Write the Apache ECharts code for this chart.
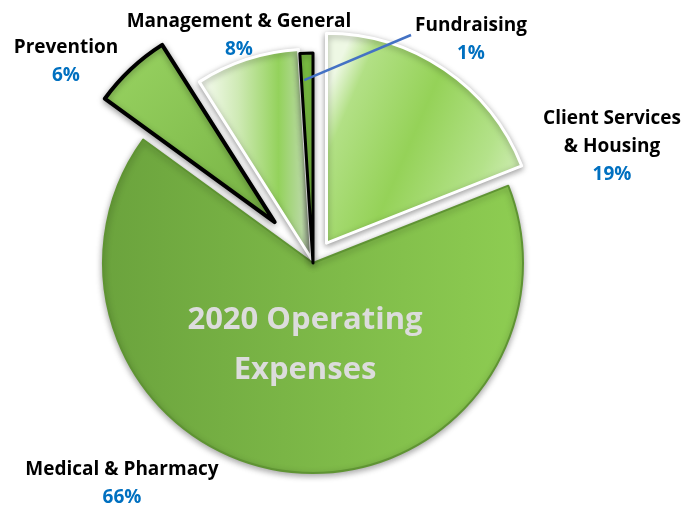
<!DOCTYPE html>
<html>
<head>
<meta charset="utf-8">
<title>2020 Operating Expenses</title>
<script src="https://cdn.jsdelivr.net/npm/echarts@6/dist/echarts.min.js"></script>
<style>
  html, body { margin: 0; padding: 0; background: #fff; }
  #main { width: 681px; height: 506px; }
</style>
</head>
<body>
<div id="main"></div>
<script>
// data
var chartTitle = '2020 Operating\nExpenses';
var categories = ['Client Services\n& Housing', 'Medical & Pharmacy', 'Prevention', 'Management & General', 'Fundraising'];
var values = [19, 66, 6, 8, 1];

// layout / style
var explode = [24, 0, 56, 4, 0];
var labelPos = [[612, 147], [122, 484], [66, 62], [239, 36], [471, 40]];
var cx = 313, cy = 263, R = 210;
var font = '"Open Sans", "Liberation Sans", sans-serif';

function lin(x0, y0, x1, y1, stops) {
  return new echarts.graphic.LinearGradient(x0, y0, x1, y1, stops.map(function (s) {
    return { offset: s[0], color: s[1] };
  }));
}

var fills = [
  lin(0, 0.3, 1, 0.7, [[0, '#eef8e4'], [0.12, '#b2e085'], [0.45, '#95d258'], [0.8, '#b4e28a'], [1, '#d3eeba']]),
  lin(0, 0, 1, 0, [[0, '#6ba33d'], [1, '#8ecd52']]),
  lin(0, 0, 1, 1, [[0, '#9ad463'], [1, '#75b142']]),
  lin(0, 0, 1, 0, [[0, '#fbfdf8'], [0.35, '#cfeab5'], [0.7, '#94d25c'], [0.9, '#b7d8a0'], [1, '#8a8a8a']]),
  '#7cc043'
];
var borders = [['#ffffff', 3], ['#5f9433', 2], ['#000000', 4], ['#ffffff', 3], ['#000000', 3]];

var total = values.reduce(function (a, b) { return a + b; }, 0);
var acc = 0, mids = [];
values.forEach(function (v) {
  mids.push((acc + v / 2) / total * 2 * Math.PI);
  acc += v;
});

function labelText(i) {
  var pct = Math.round(values[i] / total * 100) + '%';
  var lines = categories[i].split('\n').map(function (s) { return '{n|' + s + '}'; });
  return lines.join('\n') + '\n{p|' + pct + '}';
}

function makeSeries(k) {
  var dx = explode[k] * Math.sin(mids[k]);
  var dy = -explode[k] * Math.cos(mids[k]);
  return {
    type: 'pie',
    startAngle: 90,
    clockwise: true,
    center: [cx + dx, cy + dy],
    radius: R,
    silent: true,
    animation: false,
    avoidLabelOverlap: false,
    data: values.map(function (v, i) {
      var on = i === k;
      return {
        name: categories[i],
        value: v,
        itemStyle: on ? {
          color: fills[i],
          borderColor: borders[i][0],
          borderWidth: borders[i][1],
          shadowBlur: 6,
          shadowColor: 'rgba(0,0,0,0.35)',
          shadowOffsetY: 2
        } : { color: 'transparent', borderWidth: 0 },
        label: { show: on },
        labelLine: { show: false }
      };
    }),
    label: {
      formatter: function (p) { return labelText(p.dataIndex); },
      rich: {
        n: { fontFamily: font, fontWeight: 'bold', fontSize: 19, color: '#000', lineHeight: 28, align: 'center' },
        p: { fontFamily: font, fontWeight: 'bold', fontSize: 19, color: '#0070c0', lineHeight: 28, align: 'center' }
      }
    },
    labelLayout: function (p) {
      var pos = labelPos[p.dataIndex];
      return { x: pos[0], y: pos[1], align: 'center', verticalAlign: 'middle' };
    }
  };
}

// leader line for the thin Fundraising slice: from inside the slice to its label
var fIdx = 4;
var lineFrom = [cx + 186 * Math.sin(mids[fIdx]) - 3, cy - 186 * Math.cos(mids[fIdx]) + 3];
var lineTo = [411, 35];

var order = [1, 0, 2, 3, 4];
var chart = echarts.init(document.getElementById('main'));
chart.setOption({
  backgroundColor: '#ffffff',
  animation: false,
  series: order.map(makeSeries),
  graphic: [{
    type: 'line',
    z: 100,
    shape: { x1: lineFrom[0], y1: lineFrom[1], x2: lineTo[0], y2: lineTo[1] },
    style: { stroke: '#4472c4', lineWidth: 2.5 }
  }, {
    type: 'text',
    x: 305,
    y: 345,
    z: 100,
    style: {
      text: chartTitle,
      font: 'bold 31px ' + font,
      fill: '#dcdcdc',
      align: 'center',
      verticalAlign: 'middle',
      lineHeight: 50,
      shadowColor: 'rgba(0,0,0,0.35)',
      shadowBlur: 3,
      shadowOffsetY: 2
    }
  }]
});
</script>
</body>
</html>
